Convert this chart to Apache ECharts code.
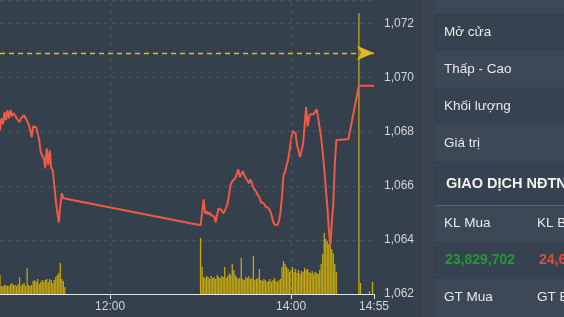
<!DOCTYPE html>
<html><head><meta charset="utf-8">
<script src="https://cdn.jsdelivr.net/npm/echarts@6/dist/echarts.min.js"></script>
<style>html,body{margin:0;padding:0;background:#34404c;overflow:hidden}#c{width:564px;height:317px}</style>
</head><body><div id="c"></div>
<script>
// ---- data ----
const morningStart = '10:47';
const morningPrices = [1068.06,1068.50,1068.28,1068.72,1068.43,1068.80,1068.50,1068.80,1068.57,1068.69,
  1068.61,1068.50,1068.43,1068.35,1068.50,1068.54,1068.61,1068.50,1068.43,1068.28,
  1068.06,1067.80,1068.20,1068.24,1068.17,1068.20,1067.69,1067.24,1067.31,1067.02,
  1066.65,1067.39,1066.76,1067.31,1066.65,1066.57,1066.02,1065.46,1065.02,1064.65,
  1065.28,1065.72,1065.54,1065.57];
const morningVolumes = [1900,800,800,900,900,800,800,1000,1100,900,900,800,1000,1700,800,1000,1100,800,2600,900,
  800,900,1300,1400,1200,1500,1000,1200,1400,1200,1400,1500,1200,1500,1400,1100,1400,1700,1900,2100,
  3100,1500,1300,700];
const afternoonStart = '13:00';
const afternoonPrices = [1064.54,1064.98,1065.50,1064.98,1065.06,1064.94,1065.02,1064.91,1064.98,1064.87,
  1064.65,1064.94,1065.17,1065.20,1065.09,1064.98,1065.06,1065.09,1065.35,1065.72,
  1066.06,1066.17,1066.20,1066.28,1066.35,1066.61,1066.31,1066.43,1066.54,1066.39,
  1066.28,1066.20,1066.09,1066.24,1066.31,1065.94,1065.87,1065.76,1065.65,1065.57,
  1065.39,1065.39,1065.35,1065.24,1065.17,1065.17,1065.09,1064.94,1064.69,1064.57,
  1064.50,1064.54,1064.72,1065.02,1065.61,1066.39,1066.50,1066.76,1066.94,1067.31,
  1067.69,1068.02,1068.06,1067.94,1067.50,1067.31,1067.06,1067.31,1067.57,1068.24,
  1068.91,1068.20,1068.57,1068.65,1068.61,1068.65,1068.72,1068.83,1068.50,1068.13,
  1067.76,1067.24,1066.65,1065.91,1065.28,1064.43,1063.76,1064.61,1065.35,1066.76,
  1067.69];
const afternoonVolumes = [5600,2700,1700,1600,1800,1700,1500,1800,1600,1700,
  1500,1900,1700,1600,1800,1700,2700,1600,1800,2100,
  1900,3000,2400,1900,1700,1500,1600,3600,1500,1400,
  1700,1600,1800,1500,1600,3800,1400,1500,1600,2500,
  1400,1300,1500,1400,1200,1300,1500,1200,1400,1600,
  1300,1200,1400,1500,2700,3300,3000,2700,2500,2200,
  2400,2700,2200,2500,2100,2400,2000,2300,2200,2600,
  2400,2500,2200,2100,2300,2000,2200,2100,2000,2400,
  3000,4000,6100,5500,5300,5000,4800,4500,4100,3000,
  2200];
const closingTimes = ['14:38','14:45','14:55'];
const closingPrices = [1067.72,1069.70,1069.70];
const lateVolumeTimes = ['14:45','14:46','14:52','14:54'];
const lateVolumes = [28100,1100,300,1200];
const referencePrice = 1070.91;
const axisStart = '10:47', axisEnd = '14:55';
const priceMin = 1062, priceMax = 1072.87, priceStep = 2;
const volumeMax = 29400;
const xTickLabels = ['12:00','14:00','14:55'];
const xGridTimes = ['12:00','14:00'];
const infoLabels = ['Mở cửa','Thấp - Cao','Khối lượng','Giá trị'];
const foreignTitle = 'GIAO DỊCH NĐTNN';
const foreignHead = ['KL Mua','KL Bán'];
const foreignValues = ['23,829,702','24,6'];
const foreignFoot = ['GT Mua','GT Bán'];

// ---- helpers (x axis in minutes of the day) ----
function ts(hm){const p=hm.split(':');return (+p[0])*60+(+p[1]);}
function seq(start, arr){const t0=ts(start);return arr.map((v,i)=>[t0+i,v]);}
const priceData = seq(morningStart,morningPrices)
  .concat(seq(afternoonStart,afternoonPrices))
  .concat(closingTimes.map((t,i)=>[ts(t),closingPrices[i]]));
const volumeData = seq(morningStart,morningVolumes)
  .concat(seq(afternoonStart,afternoonVolumes))
  .concat(lateVolumeTimes.map((t,i)=>[ts(t),lateVolumes[i]]));
const pad=n=>(n<10?'0':'')+n;
const FONT='"Liberation Sans", Arial, sans-serif';

// ---- panel graphics ----
const light='#3c4855', dark='#36424f';
const rows=[[0,13.5,light],[13.5,37,dark],[50.5,37,light],[87.5,37,dark],[124.5,37,light],[161.5,43.5,dark],[205,37,light],[242,37,dark],[279,38,light]];
const g=[{type:'rect',shape:{x:422,y:0,width:13,height:317},style:{fill:'#39444f'},silent:true}];
rows.forEach(r=>g.push({type:'rect',shape:{x:435,y:r[0],width:129,height:r[1]},style:{fill:r[2]},silent:true}));
g.push({type:'line',shape:{x1:435,y1:205.5,x2:564,y2:205.5},style:{stroke:'#56626e',lineWidth:1},silent:true});
const txt=(s,x,y,o)=>Object.assign({type:'text',x:x,y:y,style:Object.assign({text:s,fill:'#e8e8e8',font:'13.5px '+FONT,textVerticalAlign:'middle'},o||{}),silent:true});
infoLabels.forEach((s,i)=>g.push(txt(s,444,32+37*i)));
g.push(txt(foreignTitle,446,184,{font:'bold 14.5px '+FONT,fill:'#f2f2f2'}));
g.push(txt(foreignHead[0],444,223)); g.push(txt(foreignHead[1],537,223));
g.push(txt(foreignValues[0],445,260,{fill:'#1f9c2c',font:'bold 14px '+FONT}));
g.push(txt(foreignValues[1],539,260,{fill:'#e04b3c',font:'bold 14px '+FONT}));
g.push(txt(foreignFoot[0],444,297)); g.push(txt(foreignFoot[1],537,297));

const chart=echarts.init(document.getElementById('c'),null,{renderer:'canvas'});
chart.setOption({
  backgroundColor:'#34404c',
  animation:false,
  grid:{left:0,right:190,top:0,bottom:23,containLabel:false},
  xAxis:{type:'value',min:ts(axisStart),max:ts(axisEnd),
    axisLine:{lineStyle:{color:'#e6e6e6',width:1}},
    axisTick:{show:true,length:5,lineStyle:{color:'#e6e6e6'},customValues:xTickLabels.map(ts)},
    axisLabel:{color:'#d4d4d4',fontSize:12,fontFamily:FONT,margin:7,customValues:xTickLabels.map(ts),
      formatter:v=>pad(Math.floor(v/60))+':'+pad(v%60)},
    splitLine:{show:false}},
  yAxis:[{type:'value',position:'right',min:priceMin,max:priceMax,interval:priceStep,
      axisLine:{show:false},axisTick:{show:false},
      axisLabel:{color:'#d4d4d4',fontSize:12,fontFamily:FONT,margin:10,showMaxLabel:false,
        formatter:v=>v.toLocaleString('en-US')},
      splitLine:{show:true,lineStyle:{color:'#46525f',type:[4,4],width:1}}},
    {type:'value',min:0,max:volumeMax,show:false,splitLine:{show:false}}],
  graphic:g,
  series:[
    {type:'bar',yAxisIndex:1,data:volumeData,barWidth:1.3,itemStyle:{color:'#c3a70d'},silent:true,
      markLine:{silent:true,symbol:'none',label:{show:false},lineStyle:{color:'#4a5663',type:[4,4],width:1},
        data:xGridTimes.map(t=>({xAxis:ts(t)}))}},
    {type:'line',data:priceData,showSymbol:false,lineStyle:{color:'#ee5a45',width:2},itemStyle:{color:'#ee5a45'},silent:true,
      markLine:{silent:true,symbol:['none','arrow'],symbolSize:[11,17],label:{show:false},
        itemStyle:{color:'#e0b817'},
        lineStyle:{color:'#e0b817',type:[5,4],width:1.3,opacity:1},
        emphasis:{disabled:true},
        data:[[{coord:[ts(axisStart),referencePrice]},{coord:[ts(axisEnd),referencePrice]}]]}}
  ]
});
</script></body></html>
